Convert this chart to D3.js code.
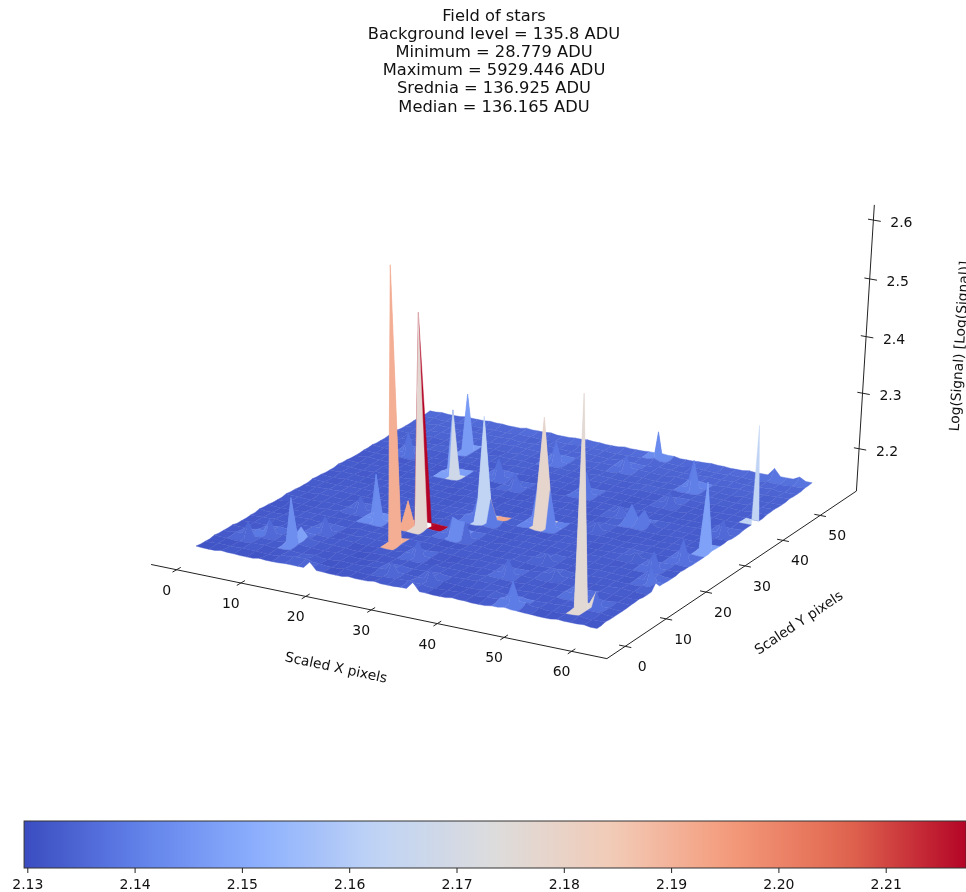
<!DOCTYPE html>
<html>
<head>
<meta charset="utf-8">
<script src="https://cdn.jsdelivr.net/npm/d3@7"></script>
<style>
  body { margin: 0; background: #fff; overflow: hidden; }
  svg { filter: blur(0.35px); }
  text { font-family: "DejaVu Sans", sans-serif; fill: #111; }
</style>
</head>
<body>
<svg id="chart" width="966" height="892"></svg>
<script>
var titleLines = ["Field of stars", "Background level = 135.8 ADU", "Minimum = 28.779 ADU",
  "Maximum = 5929.446 ADU", "Srednia = 136.925 ADU", "Median = 136.165 ADU"];
var xTicks = [0, 10, 20, 30, 40, 50, 60];
var yTicks = [0, 10, 20, 30, 40, 50];
var zTicks = [2.2, 2.3, 2.4, 2.5, 2.6];
var barTicks = [2.13, 2.14, 2.15, 2.16, 2.17, 2.18, 2.19, 2.20, 2.21];

// coolwarm
var coolwarm = ["#3b4cc0", "#6282ea", "#8db0fe", "#c0d4f5", "#dddcdc", "#f2cbb7", "#f49a7b", "#e0654f", "#b40426"];

// Log(signal) on the stride-2 mesh, thousandths above 1.997. one row per y, one column per x
var zRows = [
  [135,134,136,135,134,136,135,136,136,148,135,134,136,135,137,135,136,149,135,134,136,135,134,136,138,136,135,134,136,135,136,134],
  [134,135,135,136,135,134,137,139,140,136,134,136,135,134,136,137,138,136,134,135,136,135,137,140,174,141,137,135,136,137,135,136],
  [136,135,134,136,137,135,136,135,137,134,136,135,136,137,152,136,135,153,136,135,134,136,138,136,137,135,136,137,137,137,137,135],
  [135,137,159,136,135,138,138,136,135,137,136,134,135,136,137,135,136,137,135,136,138,137,136,135,136,137,136,135,137,160,136,135],
  [136,135,137,159,136,140,141,137,136,135,134,136,137,135,136,135,137,136,136,135,137,136,135,137,136,135,137,170,136,135,137,136],
  [134,136,135,137,136,137,136,135,137,136,135,136,135,137,162,136,134,136,135,137,136,162,137,136,135,137,136,135,137,136,135,137],
  [135,136,137,135,136,137,159,136,135,137,136,137,137,136,135,137,136,135,137,136,137,135,136,138,147,137,136,135,136,137,136,135],
  [137,135,136,136,137,135,136,135,137,136,136,135,137,136,136,135,137,136,136,135,138,136,135,136,137,135,136,137,136,135,137,146],
  [136,134,135,137,136,136,137,136,136,135,137,136,135,137,136,134,136,137,135,136,136,137,148,136,135,136,137,136,135,136,162,136],
  [135,137,136,135,136,137,135,136,216,137,140,137,137,136,167,162,136,135,137,136,136,135,137,136,137,136,135,137,136,136,137,135],
  [137,136,135,136,137,135,159,136,137,136,135,137,136,135,137,136,137,136,135,137,136,137,136,135,136,137,136,135,137,164,136,137],
  [136,135,137,136,135,137,136,135,136,137,136,134,137,136,135,137,136,135,136,137,135,136,137,136,135,136,137,145,136,135,137,136],
  [135,136,136,137,136,135,137,136,137,135,136,137,136,140,175,175,140,136,137,135,136,137,136,135,137,136,137,136,135,136,171,135],
  [137,136,135,136,137,136,135,137,136,136,135,136,137,136,135,136,137,136,200,200,136,135,136,137,136,135,136,137,136,137,136,135],
  [136,135,137,136,135,137,136,136,135,137,136,135,136,137,136,135,136,137,136,135,137,136,148,136,135,137,136,135,137,136,137,137],
  [135,137,136,135,136,136,137,135,137,136,135,137,136,135,137,136,135,136,137,136,136,135,137,136,137,136,135,136,137,136,135,136],
  [137,136,135,137,136,135,136,137,136,135,137,136,137,136,135,137,136,135,136,137,135,136,137,142,146,142,136,137,136,135,136,137],
  [136,135,136,137,135,136,137,136,136,137,136,135,136,137,136,135,137,136,137,135,136,137,150,136,135,136,137,136,137,136,159,135],
  [135,137,136,135,137,136,135,137,252,136,137,136,135,159,137,136,135,137,136,136,137,136,135,137,136,137,135,136,135,137,136,137],
  [136,135,137,136,135,137,136,135,136,137,136,168,137,135,136,137,136,135,175,137,136,135,136,137,136,135,137,136,137,136,137,137],
  [137,136,135,172,136,135,137,136,137,135,136,137,136,136,135,137,136,137,135,136,137,136,135,136,154,137,136,135,136,137,136,135],
  [136,138,137,137,138,137,136,137,138,137,136,137,138,136,138,137,136,137,138,137,136,138,137,136,137,138,136,138,137,136,138,137],
  [137,136,138,136,137,138,137,137,136,138,137,138,136,137,138,136,137,138,137,136,137,138,137,138,136,137,138,137,136,138,137,138],
  [138,137,137,138,136,137,137,138,137,136,138,137,136,172,137,138,137,136,138,137,138,136,137,136,186,138,137,136,138,137,136,137],
  [137,139,137,138,139,138,139,137,138,139,138,137,138,139,138,137,139,138,159,139,138,137,139,138,139,137,138,139,138,137,138,139],
  [138,137,139,138,137,139,138,138,139,137,138,139,138,137,139,138,137,139,138,137,139,138,137,138,139,138,139,137,138,139,137,138],
  [138,139,137,138,139,137,138,137,139,138,137,139,138,140,138,139,137,138,139,142,138,137,139,138,137,139,138,137,139,138,139,140],
  [139,140,139,141,140,141,140,139,141,140,141,139,140,141,140,139,141,140,141,142,141,139,140,141,140,139,141,140,154,141,147,141]
];
// samples that fall on a cell edge rather than a mesh corner: i, j, value
var edgeSamples = [
  [11.5, 6, 612], [11.5, 9, 510], [14.5, 12, 320], [5.5, 3, 218], [5.5, 4, 157], [10.5, 9, 180],
  [19, 26.5, 186], [31, 19.5, 310], [6.5, 22, 240], [23.5, 16, 168], [24.5, 16, 162],
  [18.5, 13, 327], [28.5, 2, 504], [30.5, 14, 257]
];
// cells whose colour value was read directly: i, j, value
var cellValues = [
  [11, 9, 2.2175], [12, 9, 2.2175], [11, 8, 2.177], [11, 5, 2.191], [11, 6, 2.191],
  [10, 8, 2.192], [10, 9, 2.192], [15, 12, 2.192], [8, 17, 2.168],
  [28, 1, 2.176], [28, 2, 2.176], [30, 19, 2.163], [18, 12, 2.178], [18, 13, 2.178],
  [14, 11, 2.163], [14, 12, 2.163]
];
// corner left out of a cell outline, the red sliver behind the second spike: cell i, j, corner i, j
var skippedCorners = [[11, 9, 12, 9]];

var nx = zRows[0].length, ny = zRows.length;
var xMax = 61, yMax = 55, zRef = 2.132;
var xLim = [-4, 65.2], yLim = [-4.4, 60], zLim = [2.11, 2.613];
var zTickShift = -0.0125;

var xScale = d3.scaleLinear().domain([0, xMax]).range([0, 1]);
var yScale = d3.scaleLinear().domain([0, yMax]).range([0, 1]);
var xStep = xMax / (nx - 1), yStep = yMax / (ny - 1);

// camera: surface corners on the page, and where verticals meet
var corners = [[196, 546], [597, 628], [812, 486], [430, 413]];
var vanish = [494, 6280];
var cam = (function() {
  var p = corners;
  var dx1 = p[1][0] - p[2][0], dx2 = p[3][0] - p[2][0], sx = p[0][0] - p[1][0] + p[2][0] - p[3][0];
  var dy1 = p[1][1] - p[2][1], dy2 = p[3][1] - p[2][1], sy = p[0][1] - p[1][1] + p[2][1] - p[3][1];
  var den = dx1 * dy2 - dx2 * dy1;
  var g = (sx * dy2 - dx2 * sy) / den, h = (dx1 * sy - sx * dy1) / den;
  return {
    a: p[1][0] - p[0][0] + g * p[1][0], b: p[3][0] - p[0][0] + h * p[3][0], c: p[0][0],
    d: p[1][1] - p[0][1] + g * p[1][1], e: p[3][1] - p[0][1] + h * p[3][1], f: p[0][1],
    g: g, h: h, k: -0.0942 * (g + h + 1)
  };
})();

function project(x, y, z) {
  var u = xScale(x), v = yScale(y), dz = z - zRef;
  var w = cam.g * u + cam.h * v + 1 + dz * cam.k;
  return [(cam.a * u + cam.b * v + cam.c + dz * cam.k * vanish[0]) / w,
          (cam.d * u + cam.e * v + cam.f + dz * cam.k * vanish[1]) / w];
}

var colorStops = d3.range(coolwarm.length).map(function(i) { return i / (coolwarm.length - 1); });
var zMin = 2.1297, zMax = 2.2175;
var color = d3.scaleLinear()
  .domain(colorStops.map(function(t) { return zMin + t * (zMax - zMin); }))
  .range(coolwarm)
  .clamp(true);

var edgeLookup = new Map();
edgeSamples.forEach(function(s) { edgeLookup.set(s[0] + "," + s[1], 1.997 + s[2] / 1000); });

function cornerZ(i, j) { return 1.997 + zRows[j][i] / 1000; }
function midZ(i0, j0, i1, j1) {
  var key = (i0 + i1) / 2 + "," + (j0 + j1) / 2;
  if (edgeLookup.has(key)) return edgeLookup.get(key);
  return Math.min(cornerZ(i0, j0), cornerZ(i1, j1));
}
function isSkipped(i, j, c) {
  return skippedCorners.some(function(s) {
    return s[0] === i && s[1] === j && s[2] === c[0] && s[3] === c[1];
  });
}

// every cell outline runs through its edge midpoints, colour is the mean of those 8 heights
var cells = [];
for (var j = 0; j < ny - 1; j++) {
  for (var i = 0; i < nx - 1; i++) {
    var ring = [[i, j], [i + 1, j], [i + 1, j + 1], [i, j + 1]];
    var pts = [], zs = [];
    ring.forEach(function(a, n) {
      var b = ring[(n + 1) % 4];
      var z1 = cornerZ(a[0], a[1]), zm = midZ(a[0], a[1], b[0], b[1]);
      if (!isSkipped(i, j, a)) pts.push(project(a[0] * xStep, a[1] * yStep, z1));
      pts.push(project((a[0] + b[0]) / 2 * xStep, (a[1] + b[1]) / 2 * yStep, zm));
      zs.push(z1, zm);
    });
    cells.push({
      i: i, j: j, pts: pts, value: d3.mean(zs),
      depth: project((i + 0.5) * xStep, (j + 0.5) * yStep, zRef)[1]
    });
  }
}
cellValues.forEach(function(c) {
  cells.filter(function(d) { return d.i === c[0] && d.j === c[1]; })[0].value = c[2];
});
cells.sort(function(a, b) { return d3.ascending(a.depth, b.depth); });

var svg = d3.select("#chart");

// surface
var polyLine = d3.line().curve(d3.curveLinearClosed);
svg.append("g").selectAll("path").data(cells).join("path")
  .attr("d", function(d) { return polyLine(d.pts); })
  .attr("fill", function(d) { return color(d.value); })
  .attr("stroke", function(d) { return color(d.value); })
  .attr("stroke-width", 0.4)
  .attr("stroke-linejoin", "round");

// axis lines
var axisLine = d3.line();
var axisG = svg.append("g").attr("fill", "none").attr("stroke", "#222").attr("stroke-width", 1);
axisG.append("path").attr("d", axisLine([
  project(xLim[0], yLim[0], zLim[0]), project(xLim[1], yLim[0], zLim[0]),
  project(xLim[1], yLim[1], zLim[0]), project(xLim[1], yLim[1], zLim[1])
]));

// ticks and labels
var tickG = svg.append("g");
function tick(a, b, label, dx, dy) {
  tickG.append("path").attr("d", axisLine([a, b])).attr("stroke", "#222").attr("fill", "none");
  var m = [(a[0] + b[0]) / 2, (a[1] + b[1]) / 2];
  tickG.append("text").attr("x", m[0] + dx).attr("y", m[1] + dy)
    .attr("text-anchor", "middle").attr("dominant-baseline", "middle")
    .attr("font-size", 14).text(label);
}
xTicks.forEach(function(x) {
  tick(project(x, yLim[0] - 0.9, zLim[0]), project(x, yLim[0] + 0.9, zLim[0]), x, -10, 21);
});
yTicks.forEach(function(y) {
  tick(project(xLim[1] - 0.9, y, zLim[0]), project(xLim[1] + 0.9, y, zLim[0]), y, 17, 21);
});
zTicks.forEach(function(z) {
  tick(project(xLim[1] - 0.8, yLim[1], z + zTickShift), project(xLim[1] + 1.1, yLim[1], z + zTickShift), z.toFixed(1), 27, 3);
});

function axisLabel(x, y, angle, text) {
  svg.append("text")
    .attr("transform", "translate(" + x + "," + y + ") rotate(" + angle + ")")
    .attr("text-anchor", "middle").attr("dominant-baseline", "middle")
    .attr("font-size", 13.8).text(text);
}
axisLabel(336, 668, 12, "Scaled X pixels");
axisLabel(799, 623, -33.7, "Scaled Y pixels");
axisLabel(960, 346, -86.4, "Log(Signal) [Log(Signal)]");

// title
svg.append("g").selectAll("text").data(titleLines).join("text")
  .attr("x", 494)
  .attr("y", function(d, i) { return 16 + i * 18.2; })
  .attr("text-anchor", "middle").attr("dominant-baseline", "middle")
  .attr("font-size", 16.3)
  .text(function(d) { return d; });

// colorbar
var barX = d3.scaleLinear().domain([2.13, 2.21]).range([27.3, 885.7]);
var grad = svg.append("defs").append("linearGradient").attr("id", "cbar");
grad.selectAll("stop").data(d3.range(0, 1.001, 0.02)).join("stop")
  .attr("offset", function(t) { return t; })
  .attr("stop-color", function(t) { return color(zMin + t * (zMax - zMin)); });
svg.append("rect")
  .attr("x", barX(zMin)).attr("y", 821)
  .attr("width", barX(zMax) - barX(zMin)).attr("height", 47)
  .attr("fill", "url(#cbar)").attr("stroke", "#333").attr("stroke-width", 1);
var barG = svg.append("g").attr("transform", "translate(0,868)");
barG.call(d3.axisBottom(barX).tickValues(barTicks).tickFormat(d3.format(".2f")).tickSize(5).tickPadding(6));
barG.select(".domain").remove();
barG.selectAll("text").attr("font-size", 14).attr("font-family", "DejaVu Sans").attr("fill", "#111");
barG.selectAll("line").attr("stroke", "#222");
</script>
</body>
</html>
